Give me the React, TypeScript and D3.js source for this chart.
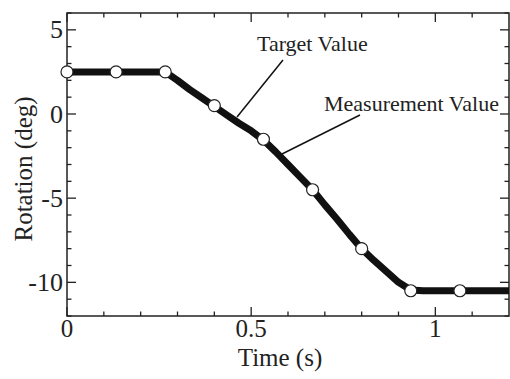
import React from "react";
import * as d3 from "d3";

const targetTime = [0, 0.1333, 0.2667, 0.4, 0.5333, 0.6667, 0.8, 0.9333, 1.0667];
const targetValue = [2.5, 2.5, 2.5, 0.5, -1.5, -4.5, -8.0, -10.5, -10.5];

const measTime = [0, 0.1, 0.2, 0.2667, 0.3, 0.3333, 0.3667, 0.4, 0.4333, 0.4667, 0.5, 0.5333, 0.5667, 0.6, 0.6333, 0.6667, 0.7, 0.7333, 0.7667, 0.8, 0.8333, 0.8667, 0.9, 0.9333, 0.9667, 1.0, 1.1, 1.2];
const measValue = [2.5, 2.5, 2.5, 2.5, 2.0, 1.45, 0.95, 0.45, -0.05, -0.55, -1.0, -1.55, -2.25, -3.0, -3.75, -4.5, -5.4, -6.25, -7.15, -8.0, -8.7, -9.35, -10.0, -10.45, -10.5, -10.5, -10.5, -10.5];

const xMajor = [0, 0.5, 1];
const xMajorLabels = ["0", "0.5", "1"];
const xMinor = [0.1, 0.2, 0.3, 0.4, 0.6, 0.7, 0.8, 0.9, 1.1];
const yMajor = [5, 0, -5, -10];
const yMajorLabels = ["5", "0", "-5", "-10"];
const yMinor = [6, 4, 3, 2, 1, -1, -2, -3, -4, -6, -7, -8, -9, -11, -12];

const W = 510, H = 379;
const left = 67, right = 509, top = 13, bottom = 316;
const font = "Liberation Serif";

export default function App() {
  const x = d3.scaleLinear().domain([0, 1.2]).range([left, right]);
  const y = d3.scaleLinear().domain([-12, 6]).range([bottom, top]);
  const meas = d3.line<number>().x((_, i) => x(measTime[i])).y((d) => y(d));
  const targ = d3.line<number>().x((_, i) => x(targetTime[i])).y((d) => y(d));
  const majL = 9, minL = 4.5;
  const ts = { fontFamily: font };
  return (
    <svg width={W} height={H} style={{ position: "absolute", left: 0, top: 0, background: "#fff" }}>
      <rect x={0} y={0} width={W} height={H} fill="#fff" />
      {xMajor.map((v) => (
        <g key={"xm" + v} stroke="#222" strokeWidth={1.3}>
          <line x1={x(v)} x2={x(v)} y1={bottom} y2={bottom - majL} />
          <line x1={x(v)} x2={x(v)} y1={top} y2={top + majL} />
        </g>
      ))}
      {xMinor.map((v) => (
        <g key={"xn" + v} stroke="#222" strokeWidth={1.3}>
          <line x1={x(v)} x2={x(v)} y1={bottom} y2={bottom - minL} />
          <line x1={x(v)} x2={x(v)} y1={top} y2={top + minL} />
        </g>
      ))}
      {yMajor.map((v) => (
        <g key={"ym" + v} stroke="#222" strokeWidth={1.3}>
          <line x1={left} x2={left + majL} y1={y(v)} y2={y(v)} />
          <line x1={right} x2={right - majL} y1={y(v)} y2={y(v)} />
        </g>
      ))}
      {yMinor.map((v) => (
        <g key={"yn" + v} stroke="#222" strokeWidth={1.3}>
          <line x1={left} x2={left + minL} y1={y(v)} y2={y(v)} />
          <line x1={right} x2={right - minL} y1={y(v)} y2={y(v)} />
        </g>
      ))}
      <rect x={left} y={top} width={right - left} height={bottom - top} fill="none" stroke="#222" strokeWidth={1.5} />
      {xMajor.map((v, i) => (
        <text key={"xl" + v} x={x(v)} y={337} textAnchor="middle" style={ts} fontSize={25} fill="#222">
          {xMajorLabels[i]}
        </text>
      ))}
      {yMajor.map((v, i) => (
        <text key={"yl" + v} x={63} y={y(v) + 8.5} textAnchor="end" style={ts} fontSize={26} fill="#222">
          {yMajorLabels[i]}
        </text>
      ))}
      <text x={280} y={366} textAnchor="middle" style={ts} fontSize={25} fill="#222">Time (s)</text>
      <text transform={`translate(32,169) rotate(-90)`} textAnchor="middle" style={ts} fontSize={25} fill="#222">Rotation (deg)</text>
      <path d={meas(measValue) || ""} fill="none" stroke="#111" strokeWidth={7} strokeLinejoin="round" />
      <path d={targ(targetValue) || ""} fill="none" stroke="#111" strokeWidth={3} />
      {targetValue.map((v, i) => (
        <circle key={"c" + i} cx={x(targetTime[i])} cy={y(v)} r={6} fill="#fff" stroke="#222" strokeWidth={1.2} />
      ))}
      <line x1={283} y1={60} x2={237} y2={117} stroke="#111" strokeWidth={1.5} />
      <line x1={360} y1={115} x2={282} y2={154} stroke="#111" strokeWidth={1.5} />
      <text x={257} y={51} style={ts} fontSize={22} fill="#222">Target Value</text>
      <text x={324} y={111} style={ts} fontSize={22} fill="#222">Measurement Value</text>
    </svg>
  );
}
